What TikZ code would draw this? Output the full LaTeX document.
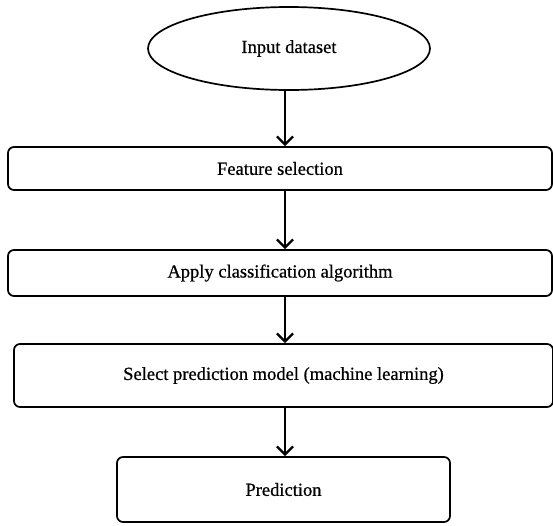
\documentclass[tikz,border=0pt]{standalone}
\usepackage{fontspec}
\setmainfont[FakeBold=0.6]{Liberation Serif}
\usetikzlibrary{arrows.meta,shapes.geometric}

\begin{document}
\begin{tikzpicture}[
  x=1pt, y=-1pt,
  font=\fontsize{18.5}{21}\selectfont,
  >={Straight Barb[length=8pt,width=16pt,line width=2.4pt]},
  stepbox/.style={draw=black, line width=1.7pt, rounded corners=6pt,
                  fill=white, align=center, inner sep=0pt},
  startnode/.style={ellipse, draw=black, line width=1.7pt, fill=white,
                    inner sep=0pt},
  flow/.style={->, line width=1.9pt, black},
]
\useasboundingbox (0,0) rectangle (553,525);

%% -- Nodes ------------------------------------------------------------------
\node[startnode, minimum width=282pt, minimum height=83pt] (input) at (289,48.5) {Input dataset};
\node[stepbox, minimum width=544pt, minimum height=43pt] (feat) at (280,168.5) {Feature selection};
\node[stepbox, minimum width=544pt, minimum height=46pt] (apply) at (280,273) {Apply classification algorithm};
\node[stepbox, minimum width=539pt, minimum height=63pt] (model) at (283.5,375.5) {Select prediction model (machine learning)};
\node[stepbox, minimum width=333pt, minimum height=65pt] (pred) at (283.5,489.5) {Prediction};

%% -- Flow arrows, all on one vertical axis -----------------------------------
\coordinate (axis) at (285,0);
\draw[flow] (input.south -| axis) -- (feat.north -| axis);
\draw[flow] (feat.south -| axis)  -- (apply.north -| axis);
\draw[flow] (apply.south -| axis) -- (model.north -| axis);
\draw[flow] (model.south -| axis) -- (pred.north -| axis);

\end{tikzpicture}
\end{document}
